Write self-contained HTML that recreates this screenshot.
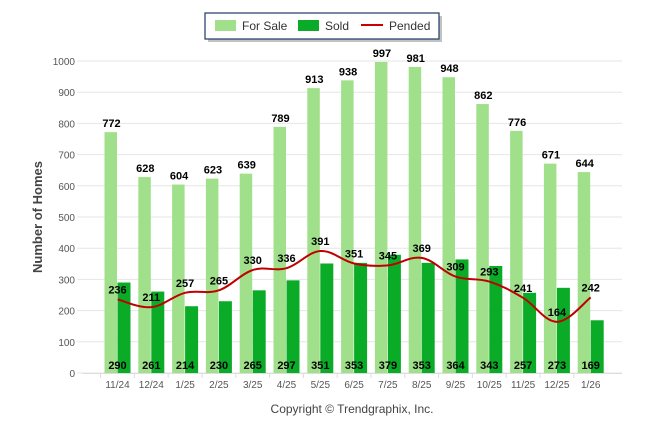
<!DOCTYPE html>
<html><head><meta charset="utf-8"><style>
html,body{margin:0;padding:0;background:#fff;}
svg{display:block;font-family:"Liberation Sans",sans-serif;}
</style></head><body>
<svg id="c" width="646" height="434">
<g id="grid"></g>
<g id="bars"></g>
<g id="line"></g>
<g id="labels"></g>
<g id="axes"></g>
<text x="42" y="217" transform="rotate(-90 42 217)" text-anchor="middle" font-size="13" font-weight="bold" fill="#444">Number of Homes</text>
<text x="352" y="413" text-anchor="middle" font-size="12" fill="#444">Copyright © Trendgraphix, Inc.</text>
<g>
<rect x="208" y="16" width="234" height="26" fill="#999" opacity="0.6"/>
<rect x="205" y="13" width="234" height="26" fill="#fff" stroke="#1f3864" stroke-width="1.2"/>
<g><rect x="215" y="20" width="21" height="11" fill="#a0e08a"/><text x="242" y="30" font-size="12" fill="#333">For Sale</text></g>
<g><rect x="298" y="20" width="21" height="11" fill="#0aab27"/><text x="325" y="30" font-size="12" fill="#333">Sold</text></g>
<g><line x1="361" y1="25" x2="383" y2="25" stroke="#c00" stroke-width="2"/><text x="389" y="30" font-size="12" fill="#333">Pended</text></g>
</g>
</svg>
<script>
const categories=["11/24","12/24","1/25","2/25","3/25","4/25","5/25","6/25","7/25","8/25","9/25","10/25","11/25","12/25","1/26"];
const forSale=[772,628,604,623,639,789,913,938,997,981,948,862,776,671,644];
const sold=[290,261,214,230,265,297,351,353,379,353,364,343,257,273,169];
const pended=[236,211,257,265,330,336,391,351,345,369,309,293,241,164,242];
const yTicks=[0,100,200,300,400,500,600,700,800,900,1000];
const NS="http://www.w3.org/2000/svg";
const y=v=>373-v*0.312;
const xc=i=>117.5+i*33.8;
function mk(tag,attrs,parent,text){const e=document.createElementNS(NS,tag);for(const k in attrs)e.setAttribute(k,attrs[k]);if(text!==undefined)e.textContent=text;document.getElementById(parent).appendChild(e);return e;}
yTicks.forEach(t=>{
 const l=mk('line',{x1:77,x2:622,y1:y(t),y2:y(t),stroke:'#e6e6e6','stroke-width':1},'grid');
 
 
 const tx=mk('text',{x:75,y:y(t)+4,'text-anchor':'end','font-size':10,fill:'#555'},'axes',t);
 
 
});
const ax=mk('line',{x1:83,x2:622,y1:373.5,y2:373.5,stroke:'#ddd'},'axes');


categories.forEach((c,i)=>{
 const cx=xc(i);
 const tk=mk('line',{x1:cx-16.9,x2:cx-16.9,y1:373,y2:378,stroke:'#ddd'},'axes');
 
 
 const tl=mk('text',{x:cx,y:388,'text-anchor':'middle','font-size':10,fill:'#555'},'axes',c);
 
 
 const b1=mk('rect',{x:cx-13,y:y(forSale[i]),width:12.5,height:373-y(forSale[i]),fill:'#a0e08a'},'bars');
 
 
 const b2=mk('rect',{x:cx,y:y(sold[i]),width:13,height:373-y(sold[i]),fill:'#0aab27'},'bars');
 
 
 const l1=mk('text',{x:cx-6,y:y(forSale[i])-5,'text-anchor':'middle','font-size':11,'font-weight':'bold',fill:'#000'},'labels',forSale[i]);
 
 
 const l2=mk('text',{x:cx,y:369,'text-anchor':'middle','font-size':11,'font-weight':'bold',fill:'#000'},'labels',sold[i]);
 
 
 const l3=mk('text',{x:cx,y:y(pended[i])-6,'text-anchor':'middle','font-size':11,'font-weight':'bold',fill:'#000'},'labels',pended[i]);
 
 
});
const pts=pended.map((v,i)=>[xc(i),y(v)]);
let d='M'+pts[0][0]+','+pts[0][1];
for(let i=0;i<pts.length-1;i++){
 const p0=pts[i-1]||pts[i],p1=pts[i],p2=pts[i+1],p3=pts[i+2]||p2;
 const t=0.18;
 d+=' C'+(p1[0]+(p2[0]-p0[0])*t)+','+(p1[1]+(p2[1]-p0[1])*t)+' '+(p2[0]-(p3[0]-p1[0])*t)+','+(p2[1]-(p3[1]-p1[1])*t)+' '+p2[0]+','+p2[1];
}
const pl=mk('path',{d:d,fill:'none',stroke:'#c00000','stroke-width':2},'line');


</script>
</body></html>
